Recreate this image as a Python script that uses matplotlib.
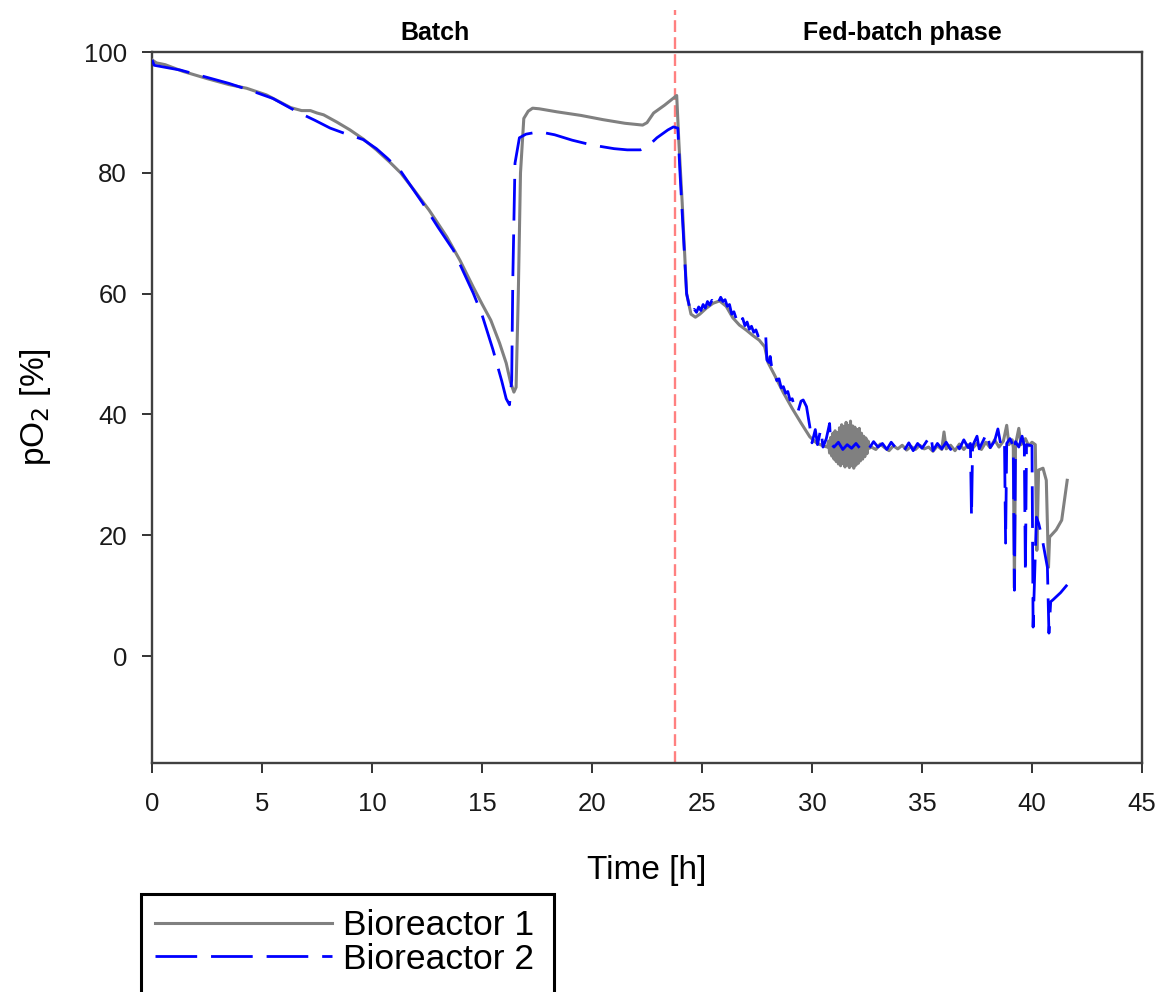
import matplotlib
matplotlib.use("Agg")
import matplotlib.pyplot as plt
from matplotlib.patches import Rectangle

plt.rcParams['font.family'] = ['Liberation Sans', 'DejaVu Sans']

# Bioreactor 1 (grey, solid)
t1 = [0.0, 0.2, 0.6, 1.4, 2.5, 3.5, 4.3, 5.2, 6.3, 6.8, 7.2, 7.5, 7.8, 8.4, 9.0, 9.6,
      10.2, 10.8, 11.3, 11.9, 12.6, 13.4, 14.0, 14.6, 15.0, 15.4, 15.8, 16.1, 16.3, 16.45,
      16.55, 16.65, 16.75, 16.9, 17.1, 17.3, 17.6, 18.4, 19.5, 20.5, 21.5, 22.3, 22.5, 22.8,
      23.3, 23.85, 23.95, 24.1, 24.3, 24.5, 24.7, 24.9, 25.2, 25.5, 25.8, 26.1, 26.4, 26.7,
      27.0, 27.3, 27.6, 27.85, 28.0, 28.3, 28.7, 29.1, 29.5, 29.9, 30.2, 30.5, 30.7,
      30.75, 30.8, 30.85, 30.9, 30.95, 31.0, 31.05, 31.1, 31.15, 31.2, 31.25, 31.3, 31.35,
      31.4, 31.45, 31.5, 31.55, 31.6, 31.65, 31.7, 31.75, 31.8, 31.85, 31.9, 31.95, 32.0,
      32.05, 32.1, 32.15, 32.2, 32.25, 32.3, 32.35, 32.4, 32.45, 32.5, 32.55, 32.6,
      32.7, 32.9, 33.1, 33.3, 33.5, 33.7, 33.9, 34.1, 34.3, 34.5, 34.7, 34.9, 35.1, 35.3,
      35.5, 35.7, 35.9, 36.0, 36.1, 36.3, 36.5, 36.7, 36.9, 37.1, 37.3, 37.5, 37.7, 37.9,
      38.1, 38.3, 38.5, 38.7, 38.85, 38.95, 39.1, 39.15, 39.2, 39.25, 39.4, 39.5, 39.7,
      39.85, 40.0, 40.15, 40.22, 40.3, 40.5, 40.65, 40.75, 40.8, 41.1, 41.35, 41.6]
po2_1 = [98.7, 98.2, 97.9, 96.8, 95.6, 94.6, 94.0, 92.9, 90.8, 90.3, 90.3, 89.9, 89.6, 88.4, 87.1, 85.6,
         83.8, 81.8, 80.0, 77.2, 73.8, 69.4, 65.5, 61.1, 58.3, 55.6, 51.8, 48.5, 45.3, 43.7,
         44.5, 60.0, 80.0, 89.0, 90.2, 90.7, 90.6, 90.1, 89.5, 88.8, 88.2, 87.9, 88.3, 89.9,
         91.2, 92.8, 85.0, 75.0, 60.0, 56.6, 56.1, 56.6, 57.6, 58.4, 58.8, 57.9, 56.0, 54.8,
         54.0, 53.1, 52.3, 51.2, 48.6, 46.5, 43.6, 41.0, 38.6, 36.3, 35.3, 34.8, 34.6,
         35.6, 33.6, 36.2, 33.1, 36.9, 32.6, 37.3, 32.2, 37.0, 31.8, 37.8, 31.5, 38.3,
         31.9, 38.0, 31.3, 38.7, 31.6, 38.2, 31.2, 38.9, 31.5, 38.1, 31.1, 37.9, 31.6,
         37.5, 31.9, 37.7, 32.3, 36.9, 32.6, 36.4, 33.0, 36.1, 33.5, 35.6, 34.4,
         34.6, 34.2, 35.1, 34.5, 34.0, 34.8, 34.3, 34.9, 34.1, 34.7, 34.2, 34.9, 34.3, 34.6,
         33.9, 34.8, 34.2, 37.1, 34.3, 34.9, 34.0, 35.1, 34.2, 35.0, 34.4, 35.2, 34.2, 35.4,
         34.5, 35.8, 34.6, 35.6, 38.2, 35.0, 35.8, 34.5, 11.3, 35.0, 37.7, 35.0, 36.0,
         34.8, 35.4, 35.0, 17.5, 30.8, 31.1, 29.1, 14.7, 19.7, 20.9, 22.5, 29.1]

# Bioreactor 2 (blue, dashed)
t2 = [0.0, 0.1, 1.3, 2.5, 3.5, 4.5, 5.5, 6.6, 7.4, 8.1, 8.7, 9.6, 10.2, 10.7, 11.3, 12.3,
      13.0, 13.7, 14.6, 15.0, 15.5, 15.9, 16.1, 16.25, 16.35, 16.4, 16.5, 16.7, 17.0, 17.6,
      18.3, 19.1, 20.0, 21.0, 21.6, 22.2, 22.6, 22.95, 23.45, 23.7, 23.9, 24.0, 24.15, 24.3,
      24.45, 24.55, 24.65, 24.75, 24.85, 24.95, 25.05, 25.15, 25.25, 25.35, 25.45, 25.55,
      25.65, 25.75, 25.85, 25.95, 26.05, 26.15, 26.25, 26.35, 26.45, 26.55, 26.65, 26.75,
      26.85, 26.95, 27.05, 27.15, 27.25, 27.35, 27.45, 27.55, 27.65, 27.75, 27.85, 27.9,
      27.95, 28.05, 28.1, 28.2, 28.3, 28.4, 28.5, 28.6, 28.7, 28.8, 28.9, 29.0, 29.1, 29.2,
      29.3, 29.35, 29.5, 29.6, 29.75, 29.9,
      30.0, 30.15, 30.25, 30.4, 30.5, 30.65, 30.8, 30.85, 31.0, 31.2, 31.4, 31.6, 31.8,
      32.0, 32.2, 32.4, 32.6, 32.8, 33.0, 33.2, 33.4, 33.6, 33.8, 34.0, 34.2, 34.4, 34.6,
      34.8, 35.0, 35.2, 35.4, 35.5, 35.7, 35.9, 36.1, 36.3, 36.5, 36.7, 36.9, 37.1, 37.2,
      37.25, 37.3, 37.5, 37.6, 37.8, 37.95, 38.1, 38.3, 38.45, 38.6, 38.75, 38.8, 38.85,
      39.0, 39.15, 39.2, 39.25, 39.4, 39.55, 39.65, 39.7, 39.75, 39.9, 40.0, 40.05, 40.2,
      40.3, 40.45, 40.7, 40.77, 40.85, 40.95, 41.3, 41.6]
po2_2 = [98.7, 97.8, 97.0, 95.8, 94.8, 93.6, 92.3, 90.1, 88.7, 87.4, 86.6, 85.5, 84.0, 82.4, 80.3, 75.0,
         71.0, 67.2, 60.1, 56.5, 50.7, 45.5, 42.6, 41.6, 45.7, 62.3, 81.6, 85.8, 86.4, 86.8,
         86.3, 85.4, 84.6, 84.0, 83.8, 83.8, 84.6, 85.8, 87.1, 87.6, 87.4, 80.0, 70.0, 60.0,
         57.5, 56.6, 57.4, 56.9, 57.8, 57.2, 58.2, 57.6, 58.7, 58.1, 58.9, 58.3,
         59.1, 58.6, 59.4, 58.7, 59.0, 57.9, 58.2, 56.6, 57.0, 55.9, 56.3, 55.2,
         55.9, 54.7, 55.3, 54.1, 54.6, 53.6, 54.0, 53.0, 53.5, 52.6, 53.0, 52.8,
         49.0, 48.6, 49.6, 47.0, 46.8, 45.6, 45.9, 44.4, 44.6, 43.5, 43.8, 42.4, 42.6, 41.3,
         40.6, 40.3, 42.2, 42.4, 41.3, 38.0,
         35.3, 37.5, 35.0, 37.6, 34.6, 36.0, 38.5, 35.2, 34.6, 35.4, 34.2, 35.0, 34.4,
         35.2, 34.3, 35.0, 34.4, 35.5, 34.6, 35.2, 34.2, 35.4, 34.5, 35.0, 34.1, 35.3, 34.0,
         35.2, 34.4, 35.5, 36.6, 34.0, 35.2, 34.3, 35.4, 34.2, 35.6, 34.3, 35.8, 34.5, 35.2,
         23.0, 34.8, 36.4, 34.3, 35.8, 37.0, 34.5, 35.6, 37.6, 34.6, 35.4, 18.7, 35.2,
         36.0, 34.8, 10.9, 35.5, 34.6, 36.4, 34.8, 13.7, 35.0, 34.9, 34.8, 4.8, 23.0,
         22.0, 19.7, 14.7, 3.8, 9.0, 9.3, 10.5, 11.8]

phase_switch = 23.75
y_min, y_max = -17.7, 100
x_ticks = [0, 5, 10, 15, 20, 25, 30, 35, 40, 45]
y_ticks = [0, 20, 40, 60, 80, 100]

W, H = 1164, 992
fig = plt.figure(figsize=(W / 100, H / 100), dpi=100)
ax = fig.add_axes([152 / W, 1 - 763 / H, (1142 - 152) / W, (763 - 52) / H])

ax.plot(t1, po2_1, color="#808080", lw=2.2, label="Bioreactor 1", zorder=3)
ax.plot(t2, po2_2, color="#0000ff", lw=2.0, linestyle=(0, (15, 5)), label="Bioreactor 2", zorder=4)
ax.plot([phase_switch, phase_switch], [y_min, 107], color="#ff8080", lw=1.7,
        linestyle=(0, (5, 2.2)), clip_on=False, zorder=2)

ax.set_xlim(0, 45)
ax.set_ylim(y_min, y_max)
ax.set_xticks(x_ticks)
ax.set_yticks(y_ticks)
ax.tick_params(axis="both", direction="out", length=7, width=1.4, labelsize=18.5,
               color="#333333", labelcolor="#1a1a1a")
ax.tick_params(axis="x", pad=14)
ax.tick_params(axis="y", pad=11)
for sp in ax.spines.values():
    sp.set_linewidth(1.7)
    sp.set_color("#404040")

ax.set_xlabel("Time [h]", fontsize=24, labelpad=28)
ax.set_ylabel("pO$_2$ [%]", fontsize=24, labelpad=22)

fig.text(435 / W, 1 - 33 / H, "Batch", fontsize=18, fontweight="bold", ha="center", va="center")
fig.text(902 / W, 1 - 33 / H, "Fed-batch phase", fontsize=18, fontweight="bold", ha="center", va="center")

leg = fig.legend(loc="upper left", bbox_to_anchor=(155 / W, 1 - 909 / H), frameon=False,
                 fontsize=25.5, handlelength=5.0, handletextpad=0.3, labelspacing=0.02,
                 borderpad=0, borderaxespad=0)
fig.add_artist(Rectangle((141 / W, -0.05), (554 - 141) / W, 1 - 894 / H + 0.05,
                         transform=fig.transFigure, fill=False, lw=2.2, edgecolor="black",
                         clip_on=False))

fig.savefig("out.png", dpi=100)
